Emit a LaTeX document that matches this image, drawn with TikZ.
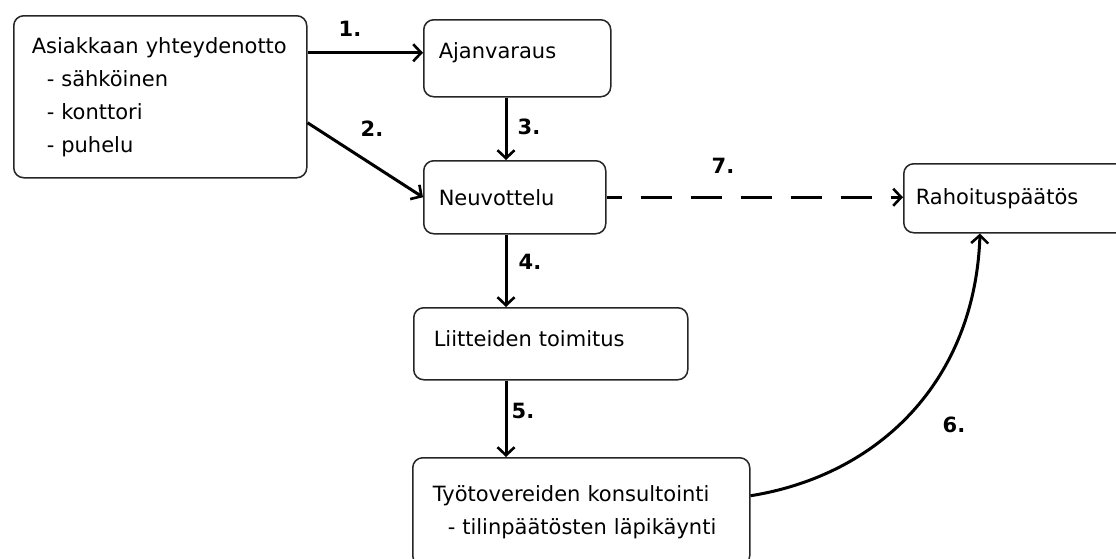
\documentclass[tikz,border=0pt]{standalone}
\usepackage{fontspec}
\setmainfont{DejaVu Sans}
\usetikzlibrary{arrows.meta,calc}
\begin{document}
\begin{tikzpicture}[x=1pt,y=-1pt,
  box/.style={draw=black!85, line width=1.5pt, rounded corners=10pt, anchor=north west,
    align=left, inner ysep=0pt, font=\fontsize{21}{33}\selectfont},
  conn/.style={line width=3pt, -{Straight Barb[length=8pt,width=17pt,line width=2.6pt]}},
  lbl/.style={font=\fontsize{21}{24}\selectfont\bfseries, inner sep=0pt}]
\useasboundingbox (0,0) rectangle (1116,558);
\fill[white] (0,0) rectangle (1116,558);
% boxes
\node[box, inner xsep=18pt, text width=257pt, minimum height=162pt] (a) at (13,15)
  {Asiakkaan yhteydenotto\\\hspace*{15pt}- sähköinen\\\hspace*{15pt}- konttori\\\hspace*{15pt}- puhelu};
\node[box, inner xsep=15pt, text width=157pt, minimum height=77pt, text depth=15pt] (b) at (423,19) {Ajanvaraus};
\node[box, inner xsep=15pt, text width=152pt, minimum height=73pt] (c) at (423,160) {Neuvottelu};
\node[box, inner xsep=20pt, text width=234pt, minimum height=72pt, text depth=10pt] (d) at (413,307) {Liitteiden toimitus};
\node[box, inner xsep=20pt, text width=297pt, minimum height=108pt] (e) at (412,457)
  {Työtovereiden konsultointi\\\hspace*{15pt}- tilinpäätösten läpikäynti};
\node[box, inner xsep=12pt, text width=220pt, minimum height=69pt] (f) at (903,163) {Rahoituspäätös};
% column for vertical arrows
\coordinate (col) at (506,0);
% connectors
\draw[conn] ([yshift=44pt]a.east) -- ([yshift=5.5pt]b.west);
\draw[conn] ([yshift=-26pt]a.east) -- (c.west);
\draw[conn] (b.south -| col) -- (c.north -| col);
\draw[conn] (c.south -| col) -- (d.north -| col);
\draw[conn] (d.south -| col) -- (e.north -| col);
\draw[conn, dash pattern=on 31pt off 19pt, dash phase=16pt] (c.east) -- (c.east -| f.west);
\draw[conn] ([yshift=16pt]e.east) .. controls (880,475) and (975,380) .. (f.south -| 980,0);
% labels
\node[lbl] (l1) at (350,29) {1.};
\node[lbl] (l2) at (372,129) {2.};
\node[lbl] (l3) at (529,127) {3.};
\node[lbl] (l4) at (530,262) {4.};
\node[lbl] (l5) at (523,411) {5.};
\node[lbl] (l6) at (954,425) {6.};
\node[lbl] (l7) at (723,166) {7.};
\end{tikzpicture}
\end{document}
